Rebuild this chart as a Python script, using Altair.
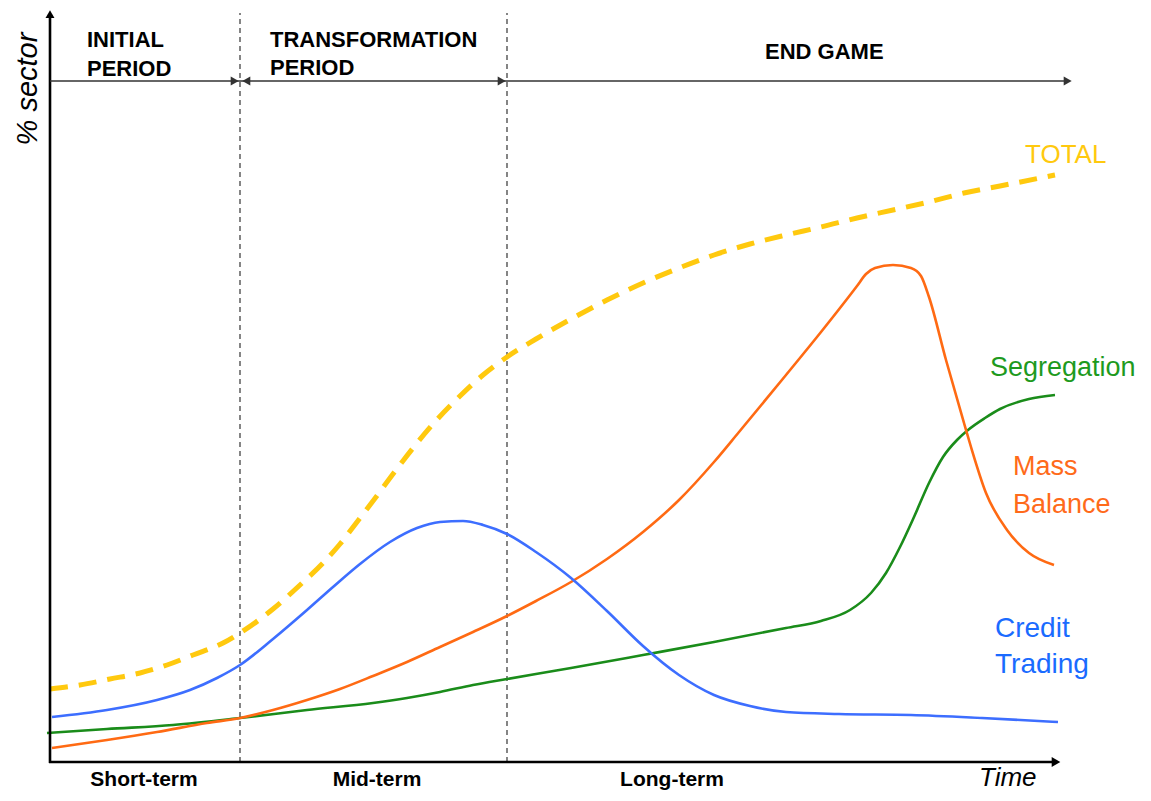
import altair as alt
import pandas as pd

# ---- data (t = time position, v = % sector level) ----
total_t = [0, 30, 60, 90, 117, 143, 173, 190, 223, 250, 273, 290, 307, 323, 343, 363, 383, 410, 433, 457,
           486, 521, 557, 593, 629, 664, 700, 736, 771, 807, 843, 879, 914, 950, 1005]
total_v = [73, 77, 83, 89, 97, 107, 119, 129, 153, 177, 199, 218, 240, 261, 288, 314, 338, 366, 387, 405,
           423, 443, 462, 479, 494, 507, 518, 527, 535, 544, 552, 560, 569, 576, 587]

credit_t = [2, 57, 107, 140, 167, 190, 223, 257, 283, 310, 340, 367, 390, 413, 433, 457, 486, 521, 557, 593,
            629, 664, 700, 736, 789, 861, 932, 1008]
credit_v = [45, 52, 62, 72, 84, 97, 123, 152, 175, 198, 220, 234, 240, 241, 237, 228, 210, 184, 151, 116,
            87, 67, 56, 50, 48, 47, 44, 40]

mass_t = [2, 57, 107, 157, 190, 223, 257, 290, 323, 357, 390, 423, 457, 486, 521, 557, 593, 629, 664, 689,
          736, 771, 807, 816, 825, 843, 861, 871, 879, 896, 914, 921, 936, 957, 979, 1004]
mass_v = [14, 22, 30, 39, 44, 52, 62, 73, 86, 100, 115, 130, 146, 161, 180, 203, 230, 262, 300, 330,
          387, 430, 476, 488, 494, 497, 494, 486, 465, 402, 339, 315, 269, 232, 209, 197]

seg_t = [-3, 57, 123, 190, 257, 323, 357, 390, 423, 457, 521, 593, 664, 736, 771, 800, 821, 836, 850, 864,
         879, 893, 907, 918, 935, 950, 979, 1005]
seg_v = [29, 33, 37, 44, 52, 59, 64, 70, 77, 83, 94, 107, 120, 134, 141, 152, 169, 189, 215, 245,
         279, 305, 322, 332, 344, 353, 363, 367]

# phase boundaries (time positions)
phase_t = [190, 457]
phase_top = 749

# header texts
header_text = ["INITIAL", "PERIOD", "TRANSFORMATION", "PERIOD", "END GAME"]
header_t = [37, 37, 220, 220, 715]
header_v = [715, 686, 715, 687, 703]

# bottom horizon labels
horizon_text = ["Short-term", "Mid-term", "Long-term"]
horizon_t = [94, 327, 622]
horizon_v = [-24, -24, -24]

# series labels
label_text = ["TOTAL", "Segregation", "Mass", "Balance", "Credit", "Trading"]
label_t = [975, 940, 963, 963, 945, 945]
label_v = [599, 386, 287, 249, 125, 89]
label_color = ["#FFC90E", "#1E9A1E", "#FF6A1A", "#FF6A1A", "#1A6BFF", "#1A6BFF"]
label_size = [26, 27, 27, 27, 28, 28]

# axes and arrow geometry
axis_t, axis_t2 = [0, -1], [0, 1007]
axis_v, axis_v2 = [-1, 0], [748, 0]
period_line_t, period_line_t2, period_line_v = [0], [1018], [681]
arrow_t = [0, 1006, 184.7, 196.3, 451.7, 1017.7]
arrow_v = [747.8, 0, 681, 681, 681, 681]
arrow_shape = ["triangle-up", "triangle-right", "triangle-right", "triangle-left", "triangle-right", "triangle-right"]
arrow_size = [80, 100, 85, 85, 85, 85]
arrow_color = ["black", "black", "#333333", "#333333", "#333333", "#333333"]

FONT = "Liberation Sans"

xs = alt.Scale(domain=[-42, 1093], nice=False, zero=False)
ys = alt.Scale(domain=[-31, 754], nice=False, zero=False)


def X(f="t"):
    return alt.X(f"{f}:Q", scale=xs, axis=None)


def Y(f="v"):
    return alt.Y(f"{f}:Q", scale=ys, axis=None)


# ---- tables ----
rows = []
for name, ts, vs in [("Segregation", seg_t, seg_v), ("Mass Balance", mass_t, mass_v),
                     ("Credit Trading", credit_t, credit_v)]:
    for i, (t, v) in enumerate(zip(ts, vs)):
        rows.append({"series": name, "t": t, "v": v, "i": i})
curves_df = pd.DataFrame(rows)
total_df = pd.DataFrame({"t": total_t, "v": total_v, "i": range(len(total_t))})
phase_df = pd.DataFrame({"t": phase_t, "v": [0] * len(phase_t), "v2": [phase_top] * len(phase_t)})
axis_df = pd.DataFrame({"t": axis_t, "t2": axis_t2, "v": axis_v, "v2": axis_v2})
period_df = pd.DataFrame({"t": period_line_t, "t2": period_line_t2, "v": period_line_v})
arrow_df = pd.DataFrame({"t": arrow_t, "v": arrow_v, "shape": arrow_shape, "size": arrow_size, "col": arrow_color})
header_df = pd.DataFrame({"t": header_t, "v": header_v, "text": header_text})
horizon_df = pd.DataFrame({"t": horizon_t, "v": horizon_v, "text": horizon_text})
label_df = pd.DataFrame({"t": label_t, "v": label_v, "text": label_text, "col": label_color, "size": label_size})
time_df = pd.DataFrame({"t": [929], "v": [-24], "text": ["Time"]})
ytitle_df = pd.DataFrame({"t": [-22], "v": [673], "text": ["% sector"]})

# ---- layers ----
phases = alt.Chart(phase_df).mark_rule(color="#444444", strokeWidth=1.3, strokeDash=[5, 4]).encode(
    x=X(), y=Y(), y2="v2:Q")

curves = alt.Chart(curves_df).mark_line(strokeWidth=2.6, interpolate="monotone").encode(
    x=X(), y=Y(), order="i:Q",
    color=alt.Color("series:N", legend=None,
                    scale=alt.Scale(domain=["Segregation", "Mass Balance", "Credit Trading"],
                                    range=["#1A8C1A", "#FF6A13", "#3D6EFF"])))

total = alt.Chart(total_df).mark_line(strokeWidth=5, strokeDash=[18, 11], color="#FFC90E",
                                      interpolate="monotone").encode(x=X(), y=Y(), order="i:Q")

axes = alt.Chart(axis_df).mark_rule(color="black", strokeWidth=2.6).encode(
    x=X(), x2="t2:Q", y=Y(), y2="v2:Q")

period = alt.Chart(period_df).mark_rule(color="#333333", strokeWidth=1.5).encode(
    x=X(), x2="t2:Q", y=Y())

arrows = alt.Chart(arrow_df).mark_point(filled=True, opacity=1, strokeWidth=0).encode(
    x=X(), y=Y(),
    shape=alt.Shape("shape:N", scale=None),
    size=alt.Size("size:Q", scale=None),
    color=alt.Color("col:N", scale=None))

headers = alt.Chart(header_df).mark_text(font=FONT, fontWeight="bold", fontSize=22, align="left",
                                         baseline="alphabetic", color="black").encode(
    x=X(), y=Y(), text="text:N")

horizons = alt.Chart(horizon_df).mark_text(font=FONT, fontWeight="bold", fontSize=21, align="center",
                                           baseline="alphabetic", color="black").encode(
    x=X(), y=Y(), text="text:N")

labels = alt.Chart(label_df).mark_text(font=FONT, align="left", baseline="alphabetic").encode(
    x=X(), y=Y(), text="text:N",
    color=alt.Color("col:N", scale=None),
    size=alt.Size("size:Q", scale=None))

time_lbl = alt.Chart(time_df).mark_text(font=FONT, fontStyle="italic", fontSize=26, align="left",
                                        baseline="alphabetic", color="black").encode(
    x=X(), y=Y(), text="text:N")

ytitle = alt.Chart(ytitle_df).mark_text(font=FONT, fontStyle="italic", fontSize=29, angle=270,
                                        align="center", baseline="middle", color="black").encode(
    x=X(), y=Y(), text="text:N")

chart = alt.layer(
    phases, curves, total, axes, period, arrows, headers, horizons, labels, time_lbl, ytitle
).properties(
    width=1135, height=785, padding=0,
    autosize=alt.AutoSizeParams(type="none")
).configure_view(stroke=None)

chart.save("out.html", embed_options={"renderer": "svg", "actions": False})
